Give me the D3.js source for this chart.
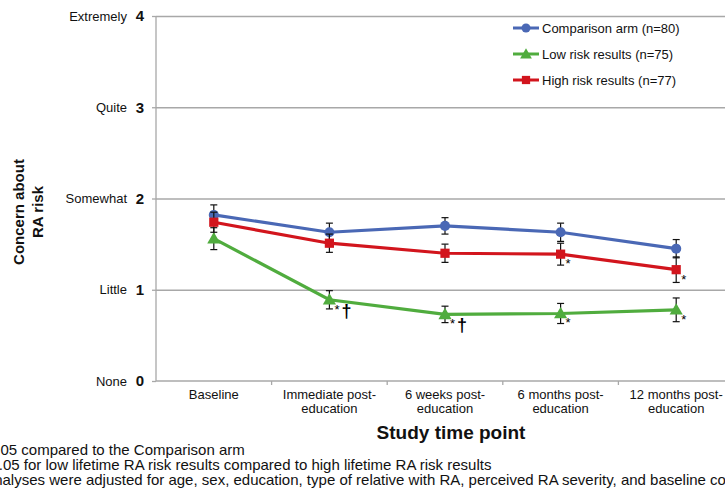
<!DOCTYPE html>
<html>
<head>
<meta charset="utf-8">
<script src="https://cdn.jsdelivr.net/npm/d3@7"></script>
<style>
    html, body { margin: 0; padding: 0; background: #fff; overflow: hidden; }
    svg { display: block; font-family: "Liberation Sans", Arial, sans-serif; }
</style>
</head>
<body>
<div id="chart"></div>
<script>
// 数据
const categories = ["Baseline", "Immediate post-education", "6 weeks post-education", "6 months post-education", "12 months post-education"];
const categoryLines = [["Baseline"], ["Immediate post-", "education"], ["6 weeks post-", "education"], ["6 months post-", "education"], ["12 months post-", "education"]];
const yTicks = [0, 1, 2, 3, 4];
const yTickWords = ["None", "Little", "Somewhat", "Quite", "Extremely"];

const seriesNames = ["Comparison arm (n=80)", "Low risk results (n=75)", "High risk results (n=77)"];
const comparisonValues = [1.82, 1.63, 1.70, 1.63, 1.45];
const comparisonErrors = [0.11, 0.10, 0.09, 0.10, 0.10];
const lowRiskValues = [1.56, 0.89, 0.73, 0.74, 0.78];
const lowRiskErrors = [0.12, 0.10, 0.09, 0.11, 0.13];
const highRiskValues = [1.74, 1.51, 1.40, 1.39, 1.22];
const highRiskErrors = [0.11, 0.10, 0.10, 0.12, 0.14];
// 显著性标记（每个时间点）
const lowRiskMarks = ["", "*\u2020", "*\u2020", "*", "*"];
const highRiskMarks = ["", "", "", "*", "*"];

const notes = [
    "*p<0.05 compared to the Comparison arm",
    "\u2020p<0.05 for low lifetime RA risk results compared to high lifetime RA risk results",
    "All analyses were adjusted for age, sex, education, type of relative with RA, perceived RA severity, and baseline concern"
];

const width = 725, height = 496;
const svg = d3.select("#chart").append("svg")
    .attr("width", width)
    .attr("height", height);

const x = d3.scaleBand().domain(categories).range([156, 734]).padding(0);
const y = d3.scaleLinear().domain([0, 4]).range([381, 16]);

const series = [
    { name: seriesNames[0], values: comparisonValues, errors: comparisonErrors, color: "#4a68b5", shape: "circle", marks: null },
    { name: seriesNames[1], values: lowRiskValues, errors: lowRiskErrors, color: "#50ac3e", shape: "triangle", marks: lowRiskMarks },
    { name: seriesNames[2], values: highRiskValues, errors: highRiskErrors, color: "#d2151d", shape: "square", marks: highRiskMarks }
];

const gridColor = "#a8a8a8";

// 网格线
svg.append("g")
    .attr("transform", "translate(156,0)")
    .call(d3.axisLeft(y).tickValues(yTicks.filter(d => d > 0)).tickSize(-(734 - 156)).tickFormat(""))
    .call(g => g.select(".domain").remove())
    .call(g => g.selectAll("line").attr("stroke", gridColor).attr("stroke-width", 1.3));

// y轴
const yAxis = svg.append("g")
    .attr("transform", "translate(156,0)")
    .call(d3.axisLeft(y).tickValues(yTicks).tickSize(4).tickPadding(8).tickFormat(d3.format("d")));
yAxis.select(".domain").attr("stroke", gridColor).attr("stroke-width", 1.3).attr("d", "M0," + y(0) + "V" + y(4));
yAxis.selectAll("line").attr("stroke", gridColor).attr("stroke-width", 1.3);
yAxis.selectAll("text").attr("font-size", 15).attr("font-weight", "bold").attr("fill", "#111").attr("font-family", "Liberation Sans, Arial, sans-serif");

svg.append("g").selectAll("text")
    .data(yTicks)
    .join("text")
    .attr("x", 127)
    .attr("y", d => y(d))
    .attr("dy", "0.35em")
    .attr("text-anchor", "end")
    .attr("font-size", 13)
    .attr("fill", "#111")
    .text((d, i) => yTickWords[i]);

// y轴标题
svg.append("text")
    .attr("transform", "translate(24,212) rotate(-90)")
    .attr("text-anchor", "middle")
    .attr("font-size", 15)
    .attr("font-weight", "bold")
    .attr("fill", "#111")
    .selectAll("tspan")
    .data(["Concern about", "RA risk"])
    .join("tspan")
    .attr("x", 0)
    .attr("y", (d, i) => i * 19)
    .text(d => d);

// x轴
const xAxis = svg.append("g").attr("transform", "translate(0," + y(0) + ")");
xAxis.append("line")
    .attr("x1", x.range()[0]).attr("x2", x.range()[1])
    .attr("stroke", gridColor).attr("stroke-width", 1.3);
xAxis.selectAll(".tick-mark")
    .data(categories.slice(1).concat([null]))
    .join("line")
    .attr("class", "tick-mark")
    .attr("x1", d => d === null ? x.range()[1] : x(d))
    .attr("x2", d => d === null ? x.range()[1] : x(d))
    .attr("y1", 0).attr("y2", 4)
    .attr("stroke", gridColor).attr("stroke-width", 1.3);
xAxis.selectAll(".cat-label")
    .data(categories)
    .join("text")
    .attr("class", "cat-label")
    .attr("text-anchor", "middle")
    .attr("font-size", 13)
    .attr("fill", "#111")
    .each(function (d, i) {
        d3.select(this).selectAll("tspan")
            .data(categoryLines[i])
            .join("tspan")
            .attr("x", x(d) + x.bandwidth() / 2)
            .attr("y", (t, j) => 18 + j * 14)
            .text(t => t);
    });

svg.append("text")
    .attr("x", 451)
    .attr("y", 439)
    .attr("text-anchor", "middle")
    .attr("font-size", 19)
    .attr("font-weight", "bold")
    .attr("fill", "#111")
    .text("Study time point");

// 折线与误差线
const cx = d => x(d) + x.bandwidth() / 2;
const line = d3.line().x(d => cx(d.cat)).y(d => y(d.value));

const symbolType = { circle: d3.symbolCircle, triangle: d3.symbolTriangle, square: d3.symbolSquare };
const symbolSize = { circle: 80, triangle: 75, square: 85 };

series.forEach(s => {
    const pts = categories.map((c, i) => ({ cat: c, value: s.values[i], err: s.errors[i], mark: s.marks ? s.marks[i] : "" }));
    const g = svg.append("g");

    g.append("path")
        .datum(pts)
        .attr("fill", "none")
        .attr("stroke", s.color)
        .attr("stroke-width", 3.2)
        .attr("d", line);

    const eb = g.selectAll(".err").data(pts).join("g").attr("class", "err")
        .attr("stroke", "#111").attr("stroke-width", 1.2);
    eb.append("line")
        .attr("x1", d => cx(d.cat)).attr("x2", d => cx(d.cat))
        .attr("y1", d => y(d.value - d.err)).attr("y2", d => y(d.value + d.err));
    eb.append("line")
        .attr("x1", d => cx(d.cat) - 3.5).attr("x2", d => cx(d.cat) + 3.5)
        .attr("y1", d => y(d.value + d.err)).attr("y2", d => y(d.value + d.err));
    eb.append("line")
        .attr("x1", d => cx(d.cat) - 3.5).attr("x2", d => cx(d.cat) + 3.5)
        .attr("y1", d => y(d.value - d.err)).attr("y2", d => y(d.value - d.err));

    g.selectAll(".pt").data(pts).join("path")
        .attr("class", "pt")
        .attr("transform", d => "translate(" + cx(d.cat) + "," + (y(d.value) + (s.shape === "triangle" ? 1 : 0)) + ")")
        .attr("d", d3.symbol().type(symbolType[s.shape]).size(symbolSize[s.shape]))
        .attr("fill", s.color);

    // 显著性标记
    const mk = g.selectAll(".mark").data(pts.filter(d => d.mark)).join("g").attr("class", "mark")
        .attr("transform", d => "translate(" + (cx(d.cat) + 5) + "," + (y(d.value) + 14) + ")");
    mk.append("text")
        .attr("font-size", 13)
        .attr("fill", "#000")
        .text("*");
    mk.filter(d => d.mark.indexOf("\u2020") >= 0).append("text")
        .attr("x", 7)
        .attr("y", 3)
        .attr("font-size", 18)
        .attr("font-weight", "bold")
        .attr("fill", "#000")
        .text("\u2020");
});

// 图例
const legend = svg.append("g").attr("transform", "translate(513,28)");
const legendItem = legend.selectAll("g").data(series).join("g")
    .attr("transform", (d, i) => "translate(0," + i * 26 + ")");
legendItem.append("line")
    .attr("x1", 0).attr("x2", 26)
    .attr("stroke", d => d.color).attr("stroke-width", 3);
legendItem.append("path")
    .attr("transform", d => "translate(13," + (d.shape === "triangle" ? 1 : 0) + ")")
    .attr("d", d => d3.symbol().type(symbolType[d.shape]).size(symbolSize[d.shape] * 0.8)())
    .attr("fill", d => d.color);
legendItem.append("text")
    .attr("x", 29)
    .attr("dy", "0.35em")
    .attr("font-size", 13)
    .attr("fill", "#111")
    .text(d => d.name);

// 注释（左侧被裁切，与原图一致）
svg.append("g").selectAll("text")
    .data(notes)
    .join("text")
    .attr("x", -35)
    .attr("y", (d, i) => 455 + i * 15)
    .attr("font-size", 15)
    .attr("fill", "#111")
    .text(d => d);
</script>
</body>
</html>
